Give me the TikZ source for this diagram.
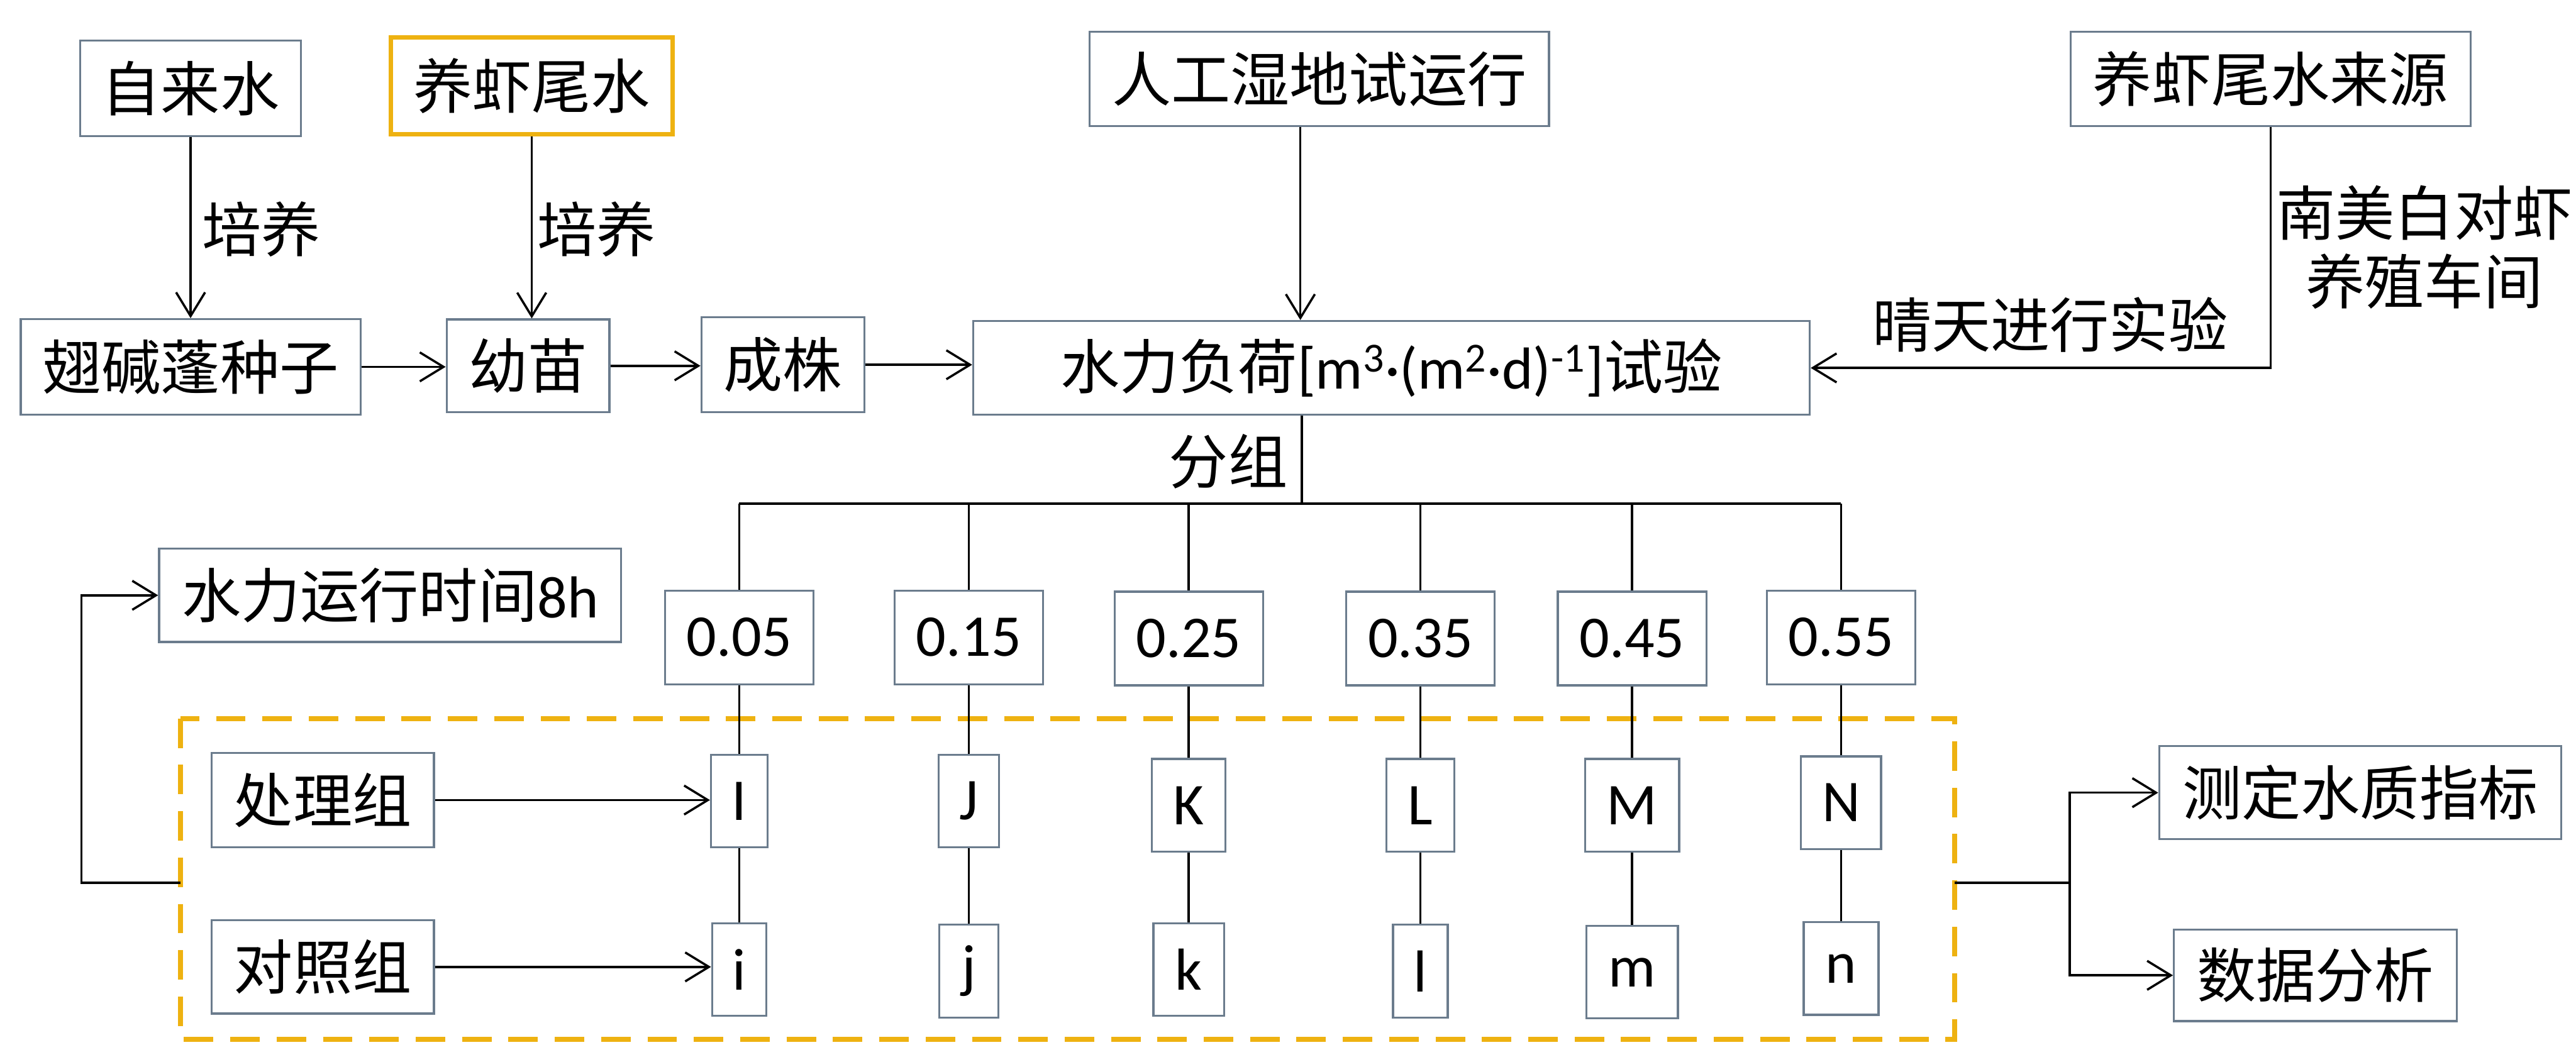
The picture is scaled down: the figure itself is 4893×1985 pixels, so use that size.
\documentclass[tikz,border=0pt]{standalone}
\usepackage{fontspec}
\setmainfont{Carlito}
\newfontfamily\cjk{Noto Sans CJK SC}
\usetikzlibrary{arrows.meta}
\definecolor{boxc}{HTML}{6B7C8D}
\definecolor{gold}{HTML}{EEB211}
\newcommand\fs{\fontsize{32}{37}\selectfont}
\tikzset{
  box/.style={draw=boxc, line width=1.1pt, fill=white, inner sep=0pt, font=\fs},
  goldbox/.style={draw=gold, line width=2.4pt, fill=white, inner sep=0pt, font=\fs},
  arr/.style={-{Straight Barb[length=0.45cm,width=0.55cm]}, line width=1.2pt},
  ln/.style={line width=1.2pt},
  lbl/.style={inner sep=0pt, font=\fs\cjk, align=center},
  valbox/.style={box, minimum width=2.82cm, minimum height=1.78cm},
  letbox/.style={box, minimum height=1.76cm},
  dashbox/.style={draw=gold, line width=2.8pt, dash pattern=on 0.56cm off 0.32cm},
}
\begin{document}
\begin{tikzpicture}[x=0.01cm,y=-0.01cm]
\useasboundingbox (0,0) rectangle (4893,1985);
\fill[white] (0,0) rectangle (4893,1985);

% top row
\node[box, minimum width=4.19cm, minimum height=1.81cm] (zls) at (362,168) {\cjk 自来水};
\node[goldbox, minimum width=5.34cm, minimum height=1.84cm] (yxws) at (1010,163) {\cjk 养虾尾水};
\node[box, minimum width=8.72cm, minimum height=1.79cm] (rg) at (2506,150) {\cjk 人工湿地试运行};
\node[box, minimum width=7.59cm, minimum height=1.79cm] (ly) at (4313,150) {\cjk 养虾尾水来源};

% second row
\node[box, minimum width=6.45cm, minimum height=1.81cm] (cjp) at (362,697) {\cjk 翅碱蓬种子};
\node[box, minimum width=3.09cm, minimum height=1.76cm] (ym) at (1003,695) {\cjk 幼苗};
\node[box, minimum width=3.09cm, minimum height=1.80cm] (cz) at (1487,693) {\cjk 成株};
\node[box, minimum width=15.88cm, minimum height=1.78cm] (sl) at (2643,699)
  {{\cjk 水力负荷}[m\textsuperscript{3}·(m\textsuperscript{2}·d)\textsuperscript{-1}]{\cjk 试验}};

\node[lbl] (py1) at (496,435) {培养};
\node[lbl] (py2) at (1133,435) {培养};
\node[lbl] (qt) at (3894,617) {晴天进行实验};
\node[lbl] (nm) at (4605,470) {南美白对虾\\养殖车间};
\node[lbl] (fzl) at (2333,877) {分组};

\draw[arr] (zls.south) -- (zls.south |- cjp.north);
\draw[arr] (yxws.south) -- (yxws.south |- ym.north);
\draw[arr] ([xshift=-0.36cm]rg.south) -- ([xshift=-0.36cm]rg.south |- sl.north);
\draw[arr] (cjp.east) -- (cjp.east -| ym.west);
\draw[arr] (ym.east) -- (ym.east -| cz.west);
\draw[arr] (cz.east) -- (cz.east -| sl.west);
\draw[arr] (ly.south) |- (sl.east);

% grouping bus
\coordinate (fz) at ([xshift=-1.70cm]sl.south);
\coordinate (busL) at (1404,957);
\coordinate (busR) at (3497,957);
\draw[ln] (fz) -- (fz |- busL);
\draw[ln] (busL) -- (busR);

% dashed box
\draw[dashbox] (343,1365) rectangle (3713,1975);

% value boxes
\node[valbox] (v1) at (1404,1211) {0.05};
\node[valbox] (v2) at (1840,1211) {0.15};
\node[valbox] (v3) at (2258,1213) {0.25};
\node[valbox] (v4) at (2698,1213) {0.35};
\node[valbox] (v5) at (3100,1213) {0.45};
\node[valbox] (v6) at (3497,1211) {0.55};

% letter boxes
\node[letbox, minimum width=1.07cm] (tI) at (1404,1522) {I};
\node[letbox, minimum width=1.15cm] (tJ) at (1840,1522) {J};
\node[letbox, minimum width=1.40cm] (tK) at (2258,1530) {K};
\node[letbox, minimum width=1.29cm] (tL) at (2698,1530) {L};
\node[letbox, minimum width=1.79cm] (tM) at (3100,1530) {M};
\node[letbox, minimum width=1.52cm] (tN) at (3497,1525) {N};
\node[letbox, minimum width=1.03cm] (bi) at (1404,1842) {i};
\node[letbox, minimum width=1.12cm] (bj) at (1840,1845) {j};
\node[letbox, minimum width=1.34cm] (bk) at (2258,1842) {k};
\node[letbox, minimum width=1.04cm] (bl) at (2698,1845) {l};
\node[letbox, minimum width=1.74cm] (bm) at (3100,1847) {m};
\node[letbox, minimum width=1.42cm] (bn) at (3497,1840) {n};

\foreach \v/\t/\b in {v1/tI/bi, v2/tJ/bj, v3/tK/bk, v4/tL/bl, v5/tM/bm, v6/tN/bn}{
  \draw[ln] (\v.north |- busL) -- (\v.north);
  \draw[ln] (\v.south) -- (\t.north);
  \draw[ln] (\t.south) -- (\b.north);
}

% group boxes
\node[box, minimum width=4.22cm, minimum height=1.79cm] (clz) at (613,1520) {\cjk 处理组};
\node[box, minimum width=4.22cm, minimum height=1.77cm] (dzz) at (613,1837) {\cjk 对照组};
\draw[arr] (clz.east) -- (clz.east -| tI.west);
\draw[arr] (dzz.east) -- (dzz.east -| bi.west);

% running time
\node[box, minimum width=8.77cm, minimum height=1.77cm] (sj) at (741,1131) {{\cjk 水力运行时间}8h};
\coordinate (fbL) at (343,1677);
\draw[arr] (fbL) -- ++(-1.88cm,0) |- (sj.west);

% outputs
\node[box, minimum width=7.63cm, minimum height=1.77cm] (cd) at (4483,1506) {\cjk 测定水质指标};
\node[box, minimum width=5.37cm, minimum height=1.74cm] (sjfx) at (4398,1853) {\cjk 数据分析};
\coordinate (fbR) at (3713,1677);
\draw[arr] (fbR) -- ++(2.18cm,0) |- (cd.west);
\draw[arr] ([xshift=2.18cm]fbR) |- (sjfx.west);
\end{tikzpicture}
\end{document}
